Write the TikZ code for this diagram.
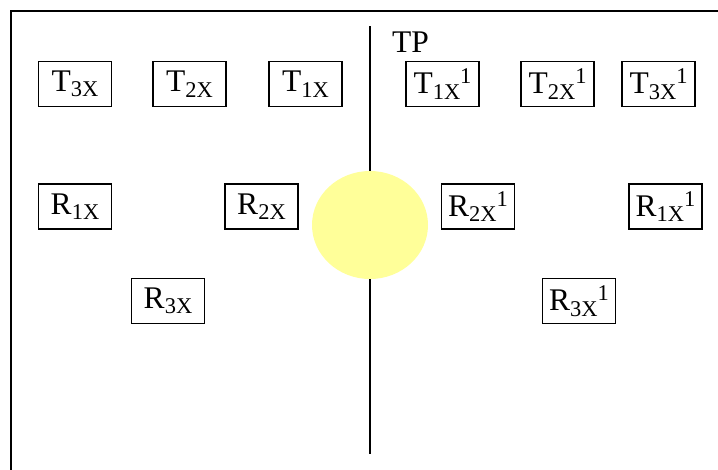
\documentclass[tikz,border=0pt]{standalone}
\usepackage{fontspec}
\setmainfont{Liberation Serif}
\usetikzlibrary{shapes.geometric}
\definecolor{sunyellow}{HTML}{FFFF99}
\newcommand{\mysb}[1]{\raisebox{-5.5pt}{\fontsize{22.5}{24}\selectfont #1}}
\newcommand{\mysp}[1]{\raisebox{10pt}{\fontsize{22.5}{24}\selectfont #1}}
\newcommand{\lbl}[3]{#1\mysb{#2}\if\relax\detokenize{#3}\relax\else\mysp{#3}\fi}
\begin{document}
\begin{tikzpicture}[x=1pt,y=-1pt,
  lbox/.style={draw=black,line width=1.5pt,minimum width=73pt,minimum height=45pt,inner sep=0pt,font=\fontsize{31.5}{33}\selectfont},
  frameline/.style={line width=1.5pt,black}]
\useasboundingbox (0,0) rectangle (718,469);
% outer frame (cut at right and bottom)
\coordinate (ftr) at (720,11);
\coordinate (ftl) at (11,11);
\coordinate (fbl) at (11,471);
\draw[frameline] (ftr) -- (ftl) -- (fbl);
% sun
\node[ellipse,fill=sunyellow,minimum width=116pt,minimum height=108pt,inner sep=0pt] (sun) at (370,225) {};
% vertical divider
\coordinate (vtop) at (370,26);
\coordinate (vbot) at (370,454);
\draw[frameline] (vtop) -- (sun.north);
\draw[frameline] (sun.south) -- (vbot);
% TP label
\node[anchor=base west,font=\fontsize{31.5}{33}\selectfont,inner sep=0pt] (tp) at (392,52) {TP};
% top row
\node[lbox] (t3) at (75,84) {\lbl{T}{3X}{}};
\node[lbox] (t2) at (189.5,84) {\lbl{T}{2X}{}};
\node[lbox] (t1) at (305.5,84) {\lbl{T}{1X}{}};
\node[lbox] (t1p) at (442.5,84) {\lbl{T}{1X}{1}};
\node[lbox] (t2p) at (557.5,84) {\lbl{T}{2X}{1}};
\node[lbox] (t3p) at (658.5,84) {\lbl{T}{3X}{1}};
% R rows
\node[lbox] (r1) at (75,206.5) {\lbl{R}{1X}{}};
\node[lbox] (r2) at (261.5,206.5) {\lbl{R}{2X}{}};
\node[lbox] (r3) at (168,301) {\lbl{R}{3X}{}};
\node[lbox] (r2p) at (478,206.5) {\lbl{R}{2X}{1}};
\node[lbox] (r1p) at (665.5,206.5) {\lbl{R}{1X}{1}};
\node[lbox] (r3p) at (579,301) {\lbl{R}{3X}{1}};
\end{tikzpicture}
\end{document}
